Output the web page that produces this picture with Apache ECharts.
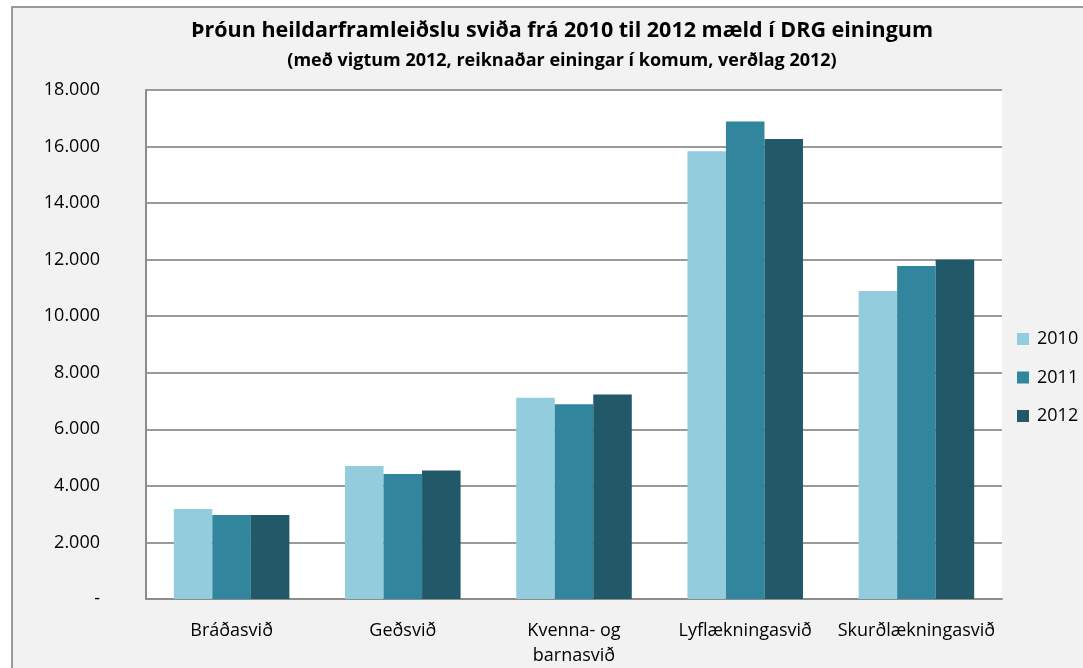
<!DOCTYPE html>
<html>
<head>
<meta charset="utf-8">
<script src="https://cdn.jsdelivr.net/npm/echarts@6/dist/echarts.min.js"></script>
<style>
  html, body { margin: 0; padding: 0; background: #fff; }
  #chart { width: 1083px; height: 668px; }
</style>
</head>
<body>
<div id="chart"></div>
<script>
// gögn lesin af myndinni
var categories = ["Bráðasvið", "Geðsvið", "Kvenna- og\nbarnasvið", "Lyflækningasvið", "Skurðlækningasvið"]
var years = ["2010", "2011", "2012"]
var v2010 = [3180, 4700, 7120, 15830, 10890]
var v2011 = [2970, 4420, 6890, 16890, 11780]
var v2012 = [2970, 4540, 7230, 16270, 12000]
var colors = ["#93CDDD", "#31859C", "#215968"]

var font = "'Open Sans', sans-serif"

function fmt(v) {
    if (v === 0) return "-"
    return String(v).replace(/\B(?=(\d{3})+(?!\d))/g, ".")
}

var seriesData = [v2010, v2011, v2012]

var option = {
    backgroundColor: "#fff",
    animation: false,
    textStyle: { fontFamily: font },
    graphic: [
        {
            type: "rect",
            z: -10,
            shape: { x: 12, y: 7, width: 1200, height: 800 },
            style: { fill: "#f2f2f2", stroke: "#9a9a9a", lineWidth: 2 }
        }
    ],
    title: [
        {
            text: "Þróun heildarframleiðslu sviða frá 2010 til 2012 mæld í DRG einingum",
            left: 562,
            textAlign: "center",
            top: 20,
            padding: 0,
            textStyle: { fontFamily: font, fontSize: 21.5, fontWeight: "bold", color: "#000" }
        },
        {
            text: "(með vigtum 2012, reiknaðar einingar í komum, verðlag 2012)",
            left: 562,
            textAlign: "center",
            top: 52,
            padding: 0,
            textStyle: { fontFamily: font, fontSize: 18, fontWeight: "bold", color: "#000" }
        }
    ],
    legend: {
        orient: "vertical",
        left: 1017,
        top: 330,
        padding: 0,
        itemWidth: 12,
        itemHeight: 12,
        itemGap: 20.5,
        icon: "rect",
        data: years,
        textStyle: { fontFamily: font, fontSize: 18, color: "#000", padding: [0, 0, 0, 3] }
    },
    grid: {
        left: 146,
        top: 90,
        width: 856,
        height: 513,
        show: true,
        backgroundColor: "#fff",
        borderWidth: 0
    },
    xAxis: {
        type: "category",
        data: categories,
        axisLine: { lineStyle: { color: "#8c8c8c", width: 2 } },
        axisTick: { show: false },
        axisLabel: {
            margin: 19,
            color: "#000",
            fontFamily: font,
            fontSize: 18,
            lineHeight: 25,
            interval: 0
        }
    },
    yAxis: {
        type: "value",
        min: 0,
        max: 18000,
        interval: 2000,
        axisLine: { show: true, lineStyle: { color: "#8c8c8c", width: 2 } },
        axisTick: { show: false },
        splitLine: { lineStyle: { color: "#9a9a9a", width: 2 } },
        axisLabel: {
            margin: 46,
            color: "#000",
            fontFamily: font,
            fontSize: 18,
            formatter: fmt
        }
    },
    series: years.map(function (y, i) {
        return {
            name: y,
            type: "bar",
            data: seriesData[i],
            barGap: "0%",
            barCategoryGap: "32.5%",
            itemStyle: { color: colors[i] }
        }
    })
}

var myChart = echarts.init(document.getElementById("chart"))
myChart.setOption(option)
</script>
</body>
</html>
